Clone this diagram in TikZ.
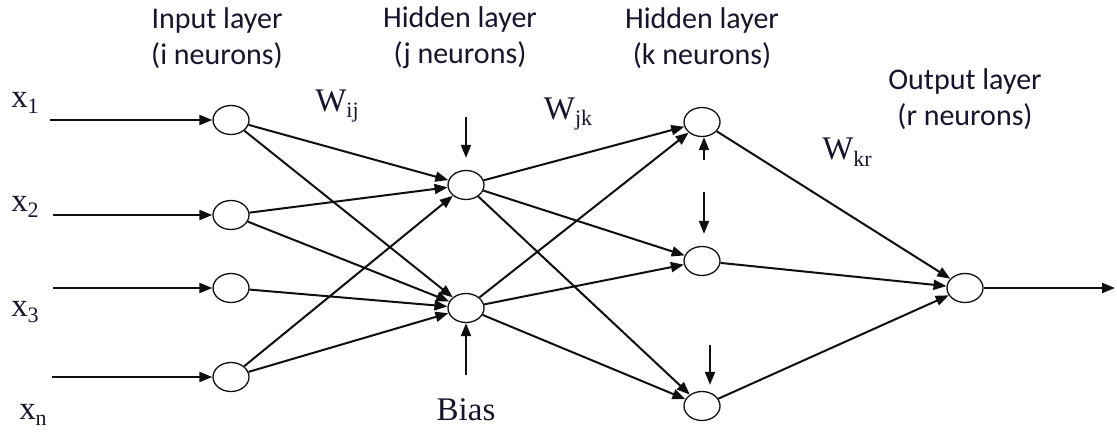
\documentclass[tikz,border=0pt]{standalone}
\usepackage{fontspec}
\setmainfont{Liberation Serif}
\newfontfamily\layerfont{Carlito}
\usetikzlibrary{arrows.meta,shapes.geometric}
\definecolor{NnInk}{RGB}{15,15,15}
\definecolor{NnText}{RGB}{25,20,45}
\newcommand{\lowsub}[1]{\raisebox{-0.45ex}{\fontsize{11}{11}\selectfont #1}}
\tikzset{
  nn/neuron/.style={
    ellipse,
    draw=NnInk,
    line width=0.65pt,
    fill=white,
    minimum width=18pt,
    minimum height=14.5pt,
    inner sep=0pt
  },
  nn/arrow/.style={-{Triangle[length=6.5pt,width=5pt]}, line width=1pt, draw=NnInk},
  nn/layer/.style={font=\layerfont\fontsize{15}{18}\selectfont, text=NnText, align=center},
  nn/sym/.style={font=\fontsize{16.5}{18}\selectfont, text=NnText, inner sep=0pt}
}

\begin{document}
\begin{tikzpicture}[x=0.5pt,y=-0.5pt]
  \useasboundingbox (0,0) rectangle (1117,434);
  % layer captions
  \node[nn/layer] (capi) at (217,38) {Input layer\\(i neurons)};
  \node[nn/layer] (capj) at (460,38) {Hidden layer\\(j neurons)};
  \node[nn/layer] (capk) at (702,38) {Hidden layer\\(k neurons)};
  \node[nn/layer] (capo) at (965,99) {Output layer\\(r neurons)};
  % neurons
  \node[nn/neuron] (i1) at (231,120) {};
  \node[nn/neuron] (i2) at (231,215) {};
  \node[nn/neuron] (i3) at (231,288) {};
  \node[nn/neuron] (i4) at (231,377) {};
  \node[nn/neuron] (j1) at (466,185) {};
  \node[nn/neuron] (j2) at (466,308) {};
  \node[nn/neuron] (k1) at (702,122) {};
  \node[nn/neuron] (k2) at (702,261) {};
  \node[nn/neuron] (k3) at (702,406) {};
  \node[nn/neuron] (o) at (965,288) {};
  % input signals
  \node[nn/sym] (x1) at (25,103) {x\lowsub{1}};
  \node[nn/sym] (x2) at (25,207) {x\lowsub{2}};
  \node[nn/sym] (x3) at (25,312) {x\lowsub{3}};
  \node[nn/sym] (xn) at (33,415) {x\lowsub{n}};
  \coordinate (in1) at (50,120);
  \coordinate (in2) at (53,215);
  \coordinate (in3) at (53,288);
  \coordinate (in4) at (52,377);
  \coordinate (out) at (1115,288);
  % weight labels
  \node[nn/sym] (wij) at (337,106) {W\lowsub{ij}};
  \node[nn/sym] (wjk) at (568,114) {W\lowsub{jk}};
  \node[nn/sym] (wkr) at (847,152) {W\lowsub{kr}};
  % connections
  \foreach \n in {1,...,4}
    \draw[nn/arrow] (in\n) -- (i\n);
  \foreach \a/\b in {i1/j1,i1/j2,i2/j1,i2/j2,i3/j2,i4/j1,i4/j2}
    \draw[nn/arrow] (\a) -- (\b);
  \foreach \a in {j1,j2}
    \foreach \b in {k1,k2,k3}
      \draw[nn/arrow] (\a) -- (\b);
  \foreach \a in {k1,k2,k3}
    \draw[nn/arrow] (\a) -- (o);
  \draw[nn/arrow] (o) -- (out);
  % bias inputs
  \node[nn/sym] (bias) at (466,410) {Bias};
  \coordinate (bj1) at (466,117);
  \coordinate (bj2) at (466,375);
  \coordinate (bk1) at (704,160);
  \coordinate (bk2) at (704,192);
  \coordinate (bk3) at (710,345);
  \draw[nn/arrow,shorten >=6pt] (bj1) -- (j1);
  \draw[nn/arrow] (bj2) -- (j2);
  \draw[nn/arrow] (bk1) -- (k1.south -| bk1);
  \draw[nn/arrow,shorten >=6pt] (bk2) -- (k2.north -| bk2);
  \draw[nn/arrow,shorten >=3pt] (bk3) -- (k3.north -| bk3);
\end{tikzpicture}
\end{document}
